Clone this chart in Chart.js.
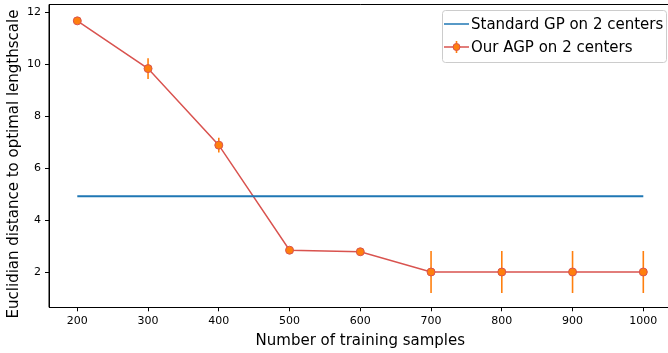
<!DOCTYPE html>
<html><head><meta charset="utf-8">
<script src="https://cdn.jsdelivr.net/npm/chart.js@4"></script>
<style>html,body{margin:0;padding:0;overflow:hidden;background:#fff;width:668px;height:353px}#w{position:absolute;left:0;top:0;width:668px;height:353px;overflow:hidden}canvas{position:absolute;left:0;top:0}</style>
</head><body>
<div id="w"><canvas id="c" width="672" height="353"></canvas></div>
<script>
const samples = [200, 300, 400, 500, 600, 700, 800, 900, 1000];
const standardGP = [4.92, 4.92, 4.92, 4.92, 4.92, 4.92, 4.92, 4.92, 4.92];
const ourAGP = [11.68, 9.84, 6.89, 2.84, 2.78, 2.0, 2.0, 2.0, 2.0];
const ourAGPErr = [0.1, 0.4, 0.28, 0.04, 0.04, 0.81, 0.81, 0.81, 0.81];
const xTicks = [200, 300, 400, 500, 600, 700, 800, 900, 1000];
const yTicks = [2, 4, 6, 8, 10, 12];
const labels = ['Standard GP on 2 centers', 'Our AGP on 2 centers'];
const xTitle = 'Number of training samples';
const yTitle = 'Euclidian distance to optimal lengthscale';

const BLUE = '#1f77b4', RED = '#d9534f', ORANGE = '#ff7f0e';
const FONT = '"DejaVu Sans", sans-serif';

const pts = arr => samples.map((x, i) => ({x, y: arr[i]}));

const extras = {
  id: 'extras',
  afterDatasetDraw(chart, args) {
    if (args.index !== 1) return;
    const ctx = chart.ctx, xs = chart.scales.x, ys = chart.scales.y;
    ctx.save();
    ctx.strokeStyle = ORANGE; ctx.lineWidth = 1.6;
    samples.forEach((s, i) => {
      const px = xs.getPixelForValue(s);
      ctx.beginPath();
      ctx.moveTo(px, ys.getPixelForValue(ourAGP[i] - ourAGPErr[i]));
      ctx.lineTo(px, ys.getPixelForValue(ourAGP[i] + ourAGPErr[i]));
      ctx.stroke();
    });
    ctx.restore();
  },
  afterDraw(chart) {
    const ctx = chart.ctx, a = chart.chartArea;
    ctx.save();
    ctx.strokeStyle = '#000'; ctx.lineWidth = 1;
    ctx.beginPath();
    ctx.moveTo(a.left, a.bottom); ctx.lineTo(a.left, a.top); ctx.lineTo(a.right + 1, a.top);
    ctx.stroke();
    ctx.fillStyle = '#000';
    ctx.font = '15px ' + FONT;
    ctx.textAlign = 'center'; ctx.textBaseline = 'middle';
    ctx.fillText(xTitle, (a.left + a.right) / 2, 341);
    ctx.translate(14, 164);
    ctx.rotate(-Math.PI / 2);
    ctx.fillText(yTitle, 0, 0);
    ctx.restore();
    // legend
    ctx.save();
    const bx = 442.5, by = 10.5, bw = 224, bh = 52;
    ctx.fillStyle = 'rgba(255,255,255,0.8)';
    ctx.strokeStyle = '#cccccc'; ctx.lineWidth = 1;
    ctx.beginPath();
    ctx.roundRect(bx, by, bw, bh, 3);
    ctx.fill(); ctx.stroke();
    ctx.font = '15px ' + FONT;
    ctx.textAlign = 'left'; ctx.textBaseline = 'middle';
    ctx.fillStyle = '#000';
    const rows = [24, 47];
    ctx.strokeStyle = BLUE; ctx.lineWidth = 1.5;
    ctx.beginPath(); ctx.moveTo(444, rows[0]); ctx.lineTo(469, rows[0]); ctx.stroke();
    ctx.fillText(labels[0], 471, rows[0] + 1);
    ctx.strokeStyle = RED; ctx.lineWidth = 1.5;
    ctx.beginPath(); ctx.moveTo(444, rows[1]); ctx.lineTo(469, rows[1]); ctx.stroke();
    ctx.strokeStyle = ORANGE; ctx.lineWidth = 1.6;
    ctx.beginPath(); ctx.moveTo(456.5, rows[1] - 6); ctx.lineTo(456.5, rows[1] + 6); ctx.stroke();
    ctx.fillStyle = ORANGE; ctx.strokeStyle = RED; ctx.lineWidth = 1;
    ctx.beginPath(); ctx.arc(456.5, rows[1], 3.5, 0, Math.PI * 2); ctx.fill(); ctx.stroke();
    ctx.fillStyle = '#000';
    ctx.fillText(labels[1], 471, rows[1] + 1);
    ctx.restore();
  }
};

function fixPad(s) { s.paddingTop = 0; s.paddingBottom = 0; s.paddingLeft = 0; s.paddingRight = 0; }

new Chart(document.getElementById('c'), {
  type: 'line',
  data: {
    datasets: [
      {label: labels[0], data: pts(standardGP), borderColor: BLUE, borderWidth: 2, pointRadius: 0, order: 1},
      {label: labels[1], data: pts(ourAGP), borderColor: RED, borderWidth: 1.5, pointRadius: 0, tension: 0, order: 2},
      {label: labels[1] + ' markers', data: pts(ourAGP), showLine: false, pointRadius: 4, pointBackgroundColor: ORANGE, pointBorderColor: RED, pointBorderWidth: 1, order: 0}
    ]
  },
  options: {
    responsive: false, animation: false,
    layout: {autoPadding: false, padding: {top: 4.5, right: 0.4, left: 0, bottom: 0}},
    plugins: {legend: {display: false}, tooltip: {enabled: false}},
    scales: {
      x: {
        type: 'linear', min: 160, max: 1040,
        afterFit(s) { s.height = 45.7; fixPad(s); },
        afterBuildTicks(s) { s.ticks = xTicks.map(v => ({value: v})); },
        grid: {drawOnChartArea: false, tickLength: 4, tickColor: '#000', tickWidth: 1},
        border: {color: '#000', width: 1},
        ticks: {font: {family: FONT, size: 11}, color: '#000', padding: 3, maxRotation: 0, callback: v => String(v)}
      },
      y: {
        type: 'linear', min: 0.64, max: 12.31,
        afterFit(s) { s.width = 49; fixPad(s); },
        afterBuildTicks(s) { s.ticks = yTicks.map(v => ({value: v})); },
        grid: {drawOnChartArea: false, tickLength: 4, tickColor: '#000', tickWidth: 1},
        border: {color: '#000', width: 1},
        ticks: {font: {family: FONT, size: 11}, color: '#000', padding: 4, callback: v => String(v)}
      }
    }
  },
  plugins: [extras]
});
</script>
</body></html>
